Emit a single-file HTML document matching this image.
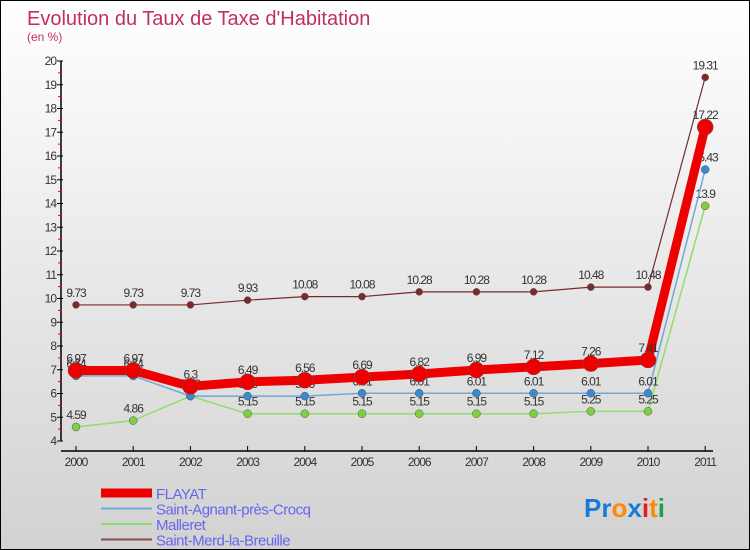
<!DOCTYPE html>
<html><head><meta charset="utf-8"><style>
body{margin:0}
#c{width:748px;height:548px;border:1px solid #000;background:linear-gradient(#fff,#d2d2d2);position:relative;font-family:"Liberation Sans",sans-serif;overflow:hidden}
</style></head><body>
<div id="c">
<svg id="s" width="748" height="548" xmlns="http://www.w3.org/2000/svg">
<text x="26" y="24" font-size="20" fill="#c0305a">Evolution du Taux de Taxe d'Habitation</text>
<text x="26" y="40" font-size="12" fill="#c0305a">(en %)</text>
<g id="g"></g>
<text x="583" y="516" font-size="26" font-weight="bold"><tspan fill="#1a7ad8">Pr</tspan><tspan fill="#ff8800">o</tspan><tspan fill="#1a7ad8">x</tspan><tspan fill="#e02020">i</tspan><tspan fill="#ff8800">t</tspan><tspan fill="#20a040">i</tspan></text>
</svg>
</div>
<script>
const years=["2000","2001","2002","2003","2004","2005","2006","2007","2008","2009","2010","2011"];
const yTicks=[4,5,6,7,8,9,10,11,12,13,14,15,16,17,18,19,20];
const flayat=[6.97,6.97,6.3,6.49,6.56,6.69,6.82,6.99,7.12,7.26,7.41,17.22];
const agnant=[6.74,6.74,5.89,5.89,5.89,6.01,6.01,6.01,6.01,6.01,6.01,15.43];
const malleret=[4.59,4.86,5.89,5.15,5.15,5.15,5.15,5.15,5.15,5.25,5.25,13.9];
const merd=[9.73,9.73,9.73,9.93,10.08,10.08,10.28,10.28,10.28,10.48,10.48,19.31];
const names=["FLAYAT","Saint-Agnant-près-Crocq","Malleret","Saint-Merd-la-Breuille"];
const NS="http://www.w3.org/2000/svg";
const g=document.getElementById('g');
const X=i=>75+i*57.2, Y=v=>440-(v-4)*23.75;
function mk(t,a,p){const e=document.createElementNS(NS,t);for(const k in a)e.setAttribute(k,a[k]);(p||g).appendChild(e);return e;}
let e;
e=mk('line',{x1:60,y1:Y(20),x2:60,y2:440,stroke:'#000','stroke-width':1.5});


e=mk('line',{x1:60,y1:450,x2:712,y2:450,stroke:'#000','stroke-width':1.5});


yTicks.forEach((v,i)=>{
 e=mk('line',{x1:56,y1:Y(v),x2:62,y2:Y(v),stroke:'#000'});
 
 
 if(i<yTicks.length-1){e=mk('line',{x1:57,y1:Y(v+0.5),x2:61,y2:Y(v+0.5),stroke:'#e00'});
 
 }
 e=mk('text',{x:55,y:Y(v)+4,'font-size':12,fill:'#333','text-anchor':'end','letter-spacing':'-1'});e.textContent=v;
 
 
});
years.forEach((y,i)=>{
 e=mk('line',{x1:X(i),y1:445,x2:X(i),y2:450,stroke:'#000'});
 
 
 e=mk('text',{x:X(i),y:465,'font-size':12,fill:'#333','text-anchor':'middle','letter-spacing':'-1'});e.textContent=y;
 
 
});
const series=[
 {d:merd,c:'#7a2a2a',w:1.2,r:3.5,n:'saint-merd'},
 {d:malleret,c:'#90dd70',w:1.5,r:4,n:'malleret',fc:'#7ed040'},
 {d:agnant,c:'#70a8d8',w:1.5,r:4,n:'saint-agnant',fc:'#3a8ad0'},
 {d:flayat,c:'#ee0000',w:9,r:8,n:'flayat'}];
series.forEach(s=>{
 e=mk('polyline',{points:s.d.map((v,i)=>X(i)+','+Y(v)).join(' '),fill:'none',stroke:s.c,'stroke-width':s.w});
 
 
 s.d.forEach((v,i)=>{
  e=mk('circle',{cx:X(i),cy:Y(v),r:s.r,fill:s.fc||s.c,stroke:'#555','stroke-width':0.5});
  
  
  e=mk('text',{x:X(i),y:Y(v)-8,'font-size':12,fill:'#333','text-anchor':'middle','letter-spacing':'-1'});e.textContent=v;
  
  
 });
});
const lc=['#ee0000','#70a8d8','#90dd70','#8a4a4a'],lw=[9,2,2,2];
names.forEach((n,i)=>{
 const y=492+i*15.5;
 e=mk('line',{x1:100,y1:y,x2:151,y2:y,stroke:lc[i],'stroke-width':lw[i]});
 
 
 e=mk('text',{x:155,y:y+6,'font-size':15,fill:'#6666ee','letter-spacing':'-0.5'});e.textContent=n;
 
 
});
</script>
</body></html>
